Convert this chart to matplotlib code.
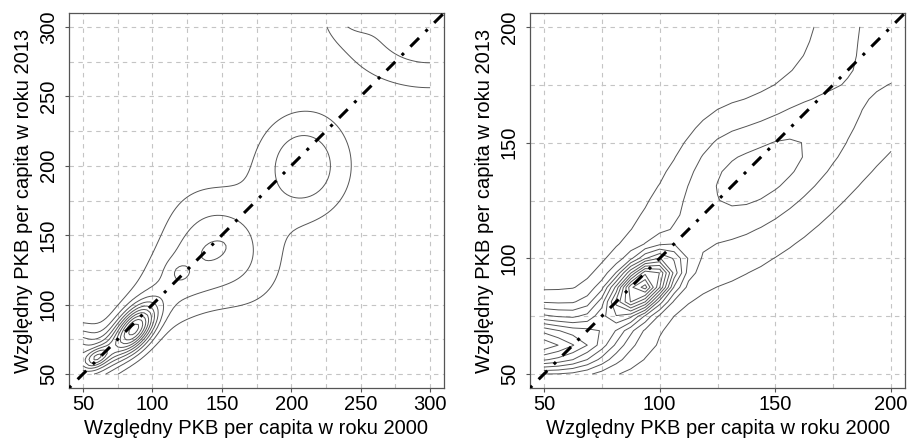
import numpy as np
import matplotlib
matplotlib.use("Agg")
import matplotlib.pyplot as plt

plt.rcParams['font.family'] = ['Liberation Sans', 'DejaVu Sans']

# ---- data: kernel-density model components ----
# each component: centre (cx, cy), spread along / across its axis (sa, sb),
# axis angle in degrees (ang) and height in contour-level units (w)
left_lim = [50, 300]
left_ticks = [50, 100, 150, 200, 250, 300]
left_grid = [50, 75, 100, 125, 150, 175, 200, 225, 250, 275, 300]
left_cx = [88, 60, 75, 85, 42, 120, 153, 119, 146, 209, 300, 243]
left_cy = [83, 62, 72, 82, 66, 118, 142, 123, 141, 200, 300, 312]
left_sa = [13, 7, 22, 32, 14, 28, 26, 6, 9, 27, 44, 12]
left_sb = [7.5, 4, 8, 15, 12, 20, 34, 6, 5, 24, 30, 12]
left_ang = [55, 35, 45, 45, 0, 45, 38, 0, 20, 90, 0, 0]
left_w = [6.5, 3.5, 3.5, 1.0, 4.5, 1.5, 2.25, 0.75, 0.3, 2.75, 2.9, 1.4]

right_lim = [50, 200]
right_ticks = [50, 100, 150, 200]
right_grid = [50, 75, 100, 125, 150, 175, 200]
right_cx = [93, 42, 42, 80, 146, 208, 135, 124]
right_cy = [88, 66, 61, 76, 139, 208, 118, 148]
right_sa = [11, 22, 22, 20, 32, 30, 75, 16]
right_sb = [6, 9.5, 6.5, 8, 15, 26, 30, 10]
right_ang = [40, 0, 0, 50, 38, 45, 35, 70]
right_w = [11.0, 5.5, 4.8, 2.5, 2.4, 2.3, 1.1, 0.7]

levels = [1, 2, 3, 4, 5, 6, 7, 8, 9, 10, 11, 12, 13, 14]
xlabel = "Względny PKB per capita w roku 2000"
ylabel = "Względny PKB per capita w roku 2013"


def density(X, Y, cx, cy, sa, sb, ang, w):
    Z = np.zeros_like(X)
    for a, b, s1, s2, t, wt in zip(cx, cy, sa, sb, ang, w):
        c, s = np.cos(np.radians(t)), np.sin(np.radians(t))
        u = ((X - a) * c + (Y - b) * s) / s1
        v = (-(X - a) * s + (Y - b) * c) / s2
        Z += wt * np.exp(-0.5 * (u * u + v * v))
    return Z


fig = plt.figure(figsize=(9.09, 4.41), dpi=100)
W, H = 909, 441
ax1 = fig.add_axes([69 / W, 1 - 388 / H, 375 / W, 375 / H])
ax2 = fig.add_axes([530 / W, 1 - 388 / H, 375 / W, 375 / H])

panels = [
    (ax1, left_lim, left_ticks, left_grid, left_cx, left_cy, left_sa, left_sb, left_ang, left_w, 120),
    (ax2, right_lim, right_ticks, right_grid, right_cx, right_cy, right_sa, right_sb, right_ang, right_w, 25),
]

for ax, lim, ticks, grid, cx, cy, sa, sb, ang, w, n in panels:
    lo, hi = lim
    ext = 0.04 * (hi - lo)
    ax.set_xlim(lo - ext, hi + ext)
    ax.set_ylim(lo - ext, hi + ext)
    for g in grid:
        ax.axvline(g, color='#c4c4c4', lw=0.8, ls=(0, (4, 4)), zorder=0)
        ax.axhline(g, color='#c4c4c4', lw=0.8, ls=(0, (4, 4)), zorder=0)
    gx = np.linspace(lo, hi, n)
    X, Y = np.meshgrid(gx, gx)
    Z = density(X, Y, cx, cy, sa, sb, ang, w)
    ax.contour(X, Y, Z, levels=levels, colors='#555555', linewidths=0.7, zorder=2)
    ax.plot([lo - ext, hi + ext], [lo - ext, hi + ext], color='black', lw=2.2,
            dashes=(1, 3, 4, 3), zorder=3)
    ax.set_xticks(ticks)
    ax.set_yticks(ticks)
    ax.set_xticklabels([str(t) for t in ticks])
    ax.set_yticklabels([str(t) for t in ticks], rotation=90, va='center')
    ax.tick_params(direction='out', length=3, width=0.8, color='#555555',
                   labelsize=14.5, pad=2)
    ax.tick_params(axis='y', pad=5)
    for sp in ax.spines.values():
        sp.set_color('#555555')
        sp.set_linewidth(0.9)
    ax.set_xlabel(xlabel, fontsize=14.5)
    ax.set_ylabel(ylabel, fontsize=14.5)
    ax.xaxis.set_label_coords(0.5, -41 / 375)
    ax.xaxis.label.set_va('center')
    ax.yaxis.set_label_coords(-45 / 375, 0.5)
    ax.yaxis.label.set_va('center')

fig.savefig("out.png", dpi=100)
